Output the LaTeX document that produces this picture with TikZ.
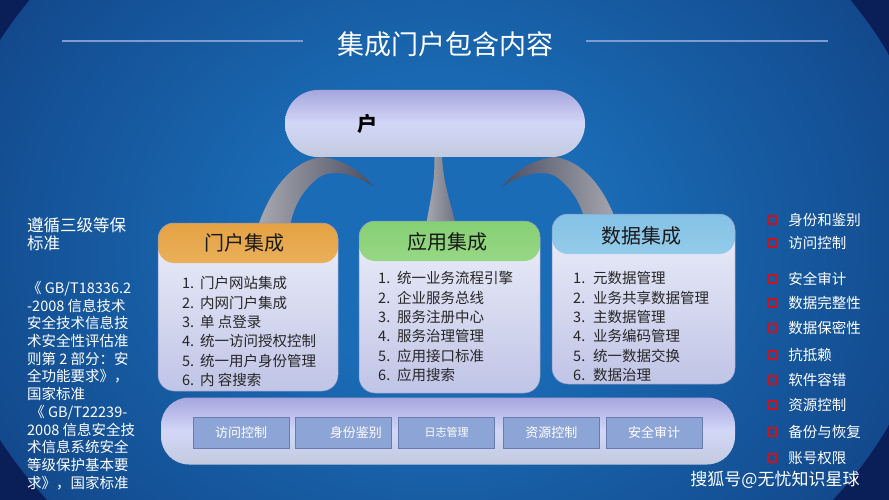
\documentclass[tikz,border=0pt]{standalone}
\usepackage{fontspec}
\setmainfont{Noto Sans CJK SC}
\usetikzlibrary{positioning}

\definecolor{bgin}{HTML}{1A6CB6}
\definecolor{bgout}{HTML}{0A1E58}
\definecolor{rulecol}{HTML}{7E9CCF}
\definecolor{pilltop}{HTML}{A6A6DE}
\definecolor{pillmid}{HTML}{D3D7F7}
\definecolor{pillbot}{HTML}{C2CADF}
\definecolor{bodytop}{HTML}{EEF0FA}
\definecolor{bodybot}{HTML}{C0C4E6}
\definecolor{boxedge}{HTML}{8E96C6}
\definecolor{orgtop}{HTML}{E5A243}
\definecolor{orgbot}{HTML}{F7DCA4}
\definecolor{grntop}{HTML}{86D074}
\definecolor{grnbot}{HTML}{CFEFBA}
\definecolor{blutop}{HTML}{84C2E6}
\definecolor{blubot}{HTML}{C8E7F6}
\definecolor{archlight}{HTML}{A8A8B0}
\definecolor{archdark}{HTML}{4A4E62}
\definecolor{secfill}{HTML}{8DA4D7}
\definecolor{secedge}{HTML}{6A7BAE}
\definecolor{markred}{HTML}{C8141E}

\pgfdeclareradialshading{bgglow}{\pgfpoint{0bp}{0bp}}{color(0bp)=(bgin); color(8bp)=(bgin); color(46bp)=(bgout); color(100bp)=(bgout)}

\tikzset{
  intbox/.style 2 args={rounded corners=16pt, top color=bodytop, bottom color=bodybot,
    draw=boxedge, line width=0.5pt, inner sep=0pt,
    path picture={\shade[top color=#1, bottom color=#2] (path picture bounding box.north west) rectangle ([yshift=-40pt]path picture bounding box.north east);}},
  headtext/.style={font=\fontsize{20}{24}\selectfont, text=black!90},
  listtext/.style={font=\fontsize{14.5}{19.3}\selectfont, text=black!85, align=left, inner sep=0pt, anchor=north west},
  sidetext/.style={font=\fontsize{14.5}{17.7}\selectfont, text=white, align=left, inner sep=0pt, anchor=north west},
  itemtext/.style={font=\fontsize{14.5}{16}\selectfont, text=white, inner sep=0pt, anchor=west},
  redmark/.style={draw=markred, line width=2.2pt, minimum size=8pt, inner sep=0pt},
  secbox/.style={draw=secedge, fill=secfill, line width=0.8pt, minimum width=96pt, minimum height=31pt,
    inner sep=0pt, text=white, font=\fontsize{13}{15}\selectfont},
  arch/.style={draw=none},
}

\begin{document}
\begin{tikzpicture}[x=1pt, y=-1pt]
    % background glow
    \useasboundingbox (0,0) rectangle (889,500);
    \fill[bgout] (0,0) rectangle (889,500);
    \begin{scope}
      \clip (0,0) rectangle (889,500);
      \shade[shading=bgglow] (440,240) ellipse (500 and 420);
    \end{scope}

    % title
    \node[font=\fontsize{27}{30}\selectfont, text=white] (title) at (445,44) {集成门户包含内容};
    \draw[rulecol, line width=1.5pt] (62,41) -- (303,41);
    \draw[rulecol, line width=1.5pt] (586,41) -- (828,41);

    % grey ribbons under the top bar
    \shade[arch, left color=archlight, right color=archdark]
      (258,226) .. controls (272,185) and (295,160) .. (322,157)
      .. controls (345,160) and (362,172) .. (374,187)
      .. controls (355,174) and (332,168) .. (318,178)
      .. controls (303,190) and (294,205) .. (290,226) -- cycle;
    \shade[arch, left color=archdark, right color=archlight]
      (618,226) .. controls (604,185) and (581,160) .. (554,157)
      .. controls (531,160) and (514,172) .. (502,187)
      .. controls (521,174) and (544,168) .. (558,178)
      .. controls (573,190) and (582,205) .. (586,226) -- cycle;
    \shade[arch, left color=archlight, right color=archdark!80]
      (434,152) .. controls (436,180) and (430,200) .. (426,226)
      -- (456,226) .. controls (450,200) and (442,180) .. (442,152) -- cycle;

    % top bar
    \node[rounded corners=33pt, top color=pilltop, bottom color=pillbot, middle color=pillmid,
      minimum width=300pt, minimum height=67pt, inner sep=0pt] (portal) at (435,123.5) {};
    \node[font=\fontsize{20}{24}\selectfont\bfseries, text=black] (portaltxt) at (367,124) {户};

    % three integration boxes
    \node[intbox={orgtop}{orgbot}, minimum width=180pt, minimum height=168pt] (portalbox) at (248,307) {};
    \node[intbox={grntop}{grnbot}, minimum width=181pt, minimum height=172pt] (appbox) at (449.5,307) {};
    \node[intbox={blutop}{blubot}, minimum width=183pt, minimum height=170pt] (databox) at (643.5,299) {};

    \node[headtext] (portalhead) at (244,243) {门户集成};
    \node[headtext] (apphead) at (447,242) {应用集成};
    \node[headtext] (datahead) at (641,236) {数据集成};

    \node[listtext] (portallist) at (182,276.5) {\makebox[18pt][l]{1.}门户网站集成\\
      \makebox[18pt][l]{2.}内网门户集成\\
      \makebox[18pt][l]{3.}单 点登录\\
      \makebox[18pt][l]{4.}统一访问授权控制\\
      \makebox[18pt][l]{5.}统一用户身份管理\\
      \makebox[18pt][l]{6.}内 容搜索};
    \node[listtext] (applist) at (378,271.5) {\makebox[19pt][l]{1.}统一业务流程引擎\\
      \makebox[19pt][l]{2.}企业服务总线\\
      \makebox[19pt][l]{3.}服务注册中心\\
      \makebox[19pt][l]{4.}服务治理管理\\
      \makebox[19pt][l]{5.}应用接口标准\\
      \makebox[19pt][l]{6.}应用搜索};
    \node[listtext] (datalist) at (573,271.5) {\makebox[20pt][l]{1.}元数据管理\\
      \makebox[20pt][l]{2.}业务共享数据管理\\
      \makebox[20pt][l]{3.}主数据管理\\
      \makebox[20pt][l]{4.}业务编码管理\\
      \makebox[20pt][l]{5.}统一数据交换\\
      \makebox[20pt][l]{6.}数据治理};

    % security bar at the bottom
    \node[rounded corners=28pt, top color=pilltop, bottom color=pillbot, middle color=pillmid,
      minimum width=574pt, minimum height=67pt, inner sep=0pt] (secbar) at (448,431) {};
    \node[secbox] (acc) at (241,432.5) {访问控制};
    \node[secbox, right=6pt of acc] (ident) {\hspace*{24pt}身份鉴别};
    \node[secbox, right=6pt of ident, font=\fontsize{11}{13}\selectfont] (logm) {日志管理};
    \node[secbox, right=8pt of logm] (resc) {资源控制};
    \node[secbox, right=6pt of resc] (audit) {安全审计};

    % left column: standards
    \node[sidetext, font=\fontsize{16.5}{18.3}\selectfont] (rulehead) at (27,217) {遵循三级等保\\标准};
    \node[sidetext] (rulebody) at (27,281) {《 GB/T18336.2\\
      -2008 信息技术\\
      安全技术信息技\\
      术安全性评估准\\
      则第 2 部分：安\\
      全功能要求》，\\
      国家标准\\
      \ 《 GB/T22239-\\
      2008 信息安全技\\
      术信息系统安全\\
      等级保护基本要\\
      求》，国家标准};

    % right column: security items
    \node[redmark] (m1) at (772,220) {};
    \node[itemtext, right=11pt of m1] (s1) {身份和鉴别};
    \node[redmark] (m2) at (772,243) {};
    \node[itemtext, right=11pt of m2] (s2) {访问控制};
    \node[redmark] (m3) at (772,279) {};
    \node[itemtext, right=11pt of m3] (s3) {安全审计};
    \node[redmark] (m4) at (772,303) {};
    \node[itemtext, right=11pt of m4] (s4) {数据完整性};
    \node[redmark] (m5) at (772,328) {};
    \node[itemtext, right=11pt of m5] (s5) {数据保密性};
    \node[redmark] (m6) at (772,355) {};
    \node[itemtext, right=11pt of m6] (s6) {抗抵赖};
    \node[redmark] (m7) at (772,380) {};
    \node[itemtext, right=11pt of m7] (s7) {软件容错};
    \node[redmark] (m8) at (772,405) {};
    \node[itemtext, right=11pt of m8] (s8) {资源控制};
    \node[redmark] (m9) at (772,432) {};
    \node[itemtext, right=11pt of m9] (s9) {备份与恢复};
    \node[redmark] (m10) at (772,458) {};
    \node[itemtext, right=11pt of m10] (s10) {账号权限};

    \node[font=\fontsize{17}{19}\selectfont, text=white] (wmark) at (775,480) {搜狐号@无忧知识星球};
\end{tikzpicture}
\end{document}
